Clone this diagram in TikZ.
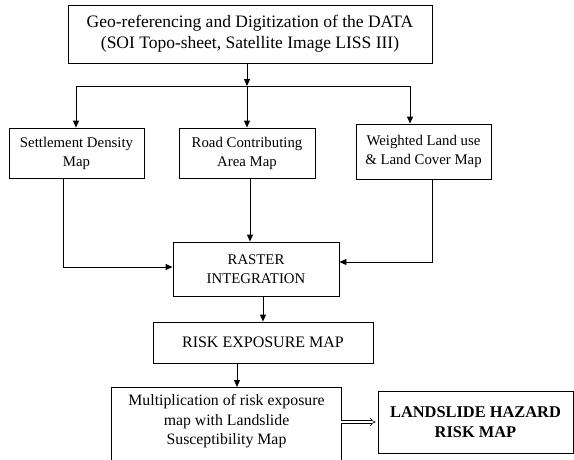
\documentclass[tikz,border=0pt]{standalone}
\usepackage{fontspec}
\setmainfont{Liberation Serif}
\usetikzlibrary{arrows.meta}
\begin{document}
\begin{tikzpicture}[x=1pt,y=-1pt,
  box/.style={draw, line width=0.9pt, rectangle, align=center, inner sep=0pt},
  arr/.style={line width=0.9pt, -{Triangle[length=7pt,width=6pt]}},
  ln/.style={line width=0.9pt}]
\clip (0,0) rectangle (574,459);
\node[box, minimum width=364, minimum height=58, font=\fontsize{17.5}{21}\selectfont] (top) at (250,34)
  {Geo-referencing and Digitization of the DATA\\(SOI Topo-sheet, Satellite Image LISS III)};
\node[box, minimum width=135, minimum height=50, font=\fontsize{14.8}{19}\selectfont] (sdm) at (76.5,153) {Settlement Density\\Map};
\node[box, minimum width=136, minimum height=50, font=\fontsize{14.8}{19}\selectfont] (rca) at (247,153) {Road Contributing\\Area Map};
\node[box, minimum width=135, minimum height=55, font=\fontsize{14.8}{19}\selectfont] (wlu) at (423.5,151.5) {Weighted Land use\\\& Land Cover Map};
\node[box, minimum width=166, minimum height=54, font=\fontsize{14.8}{19}\selectfont] (ras) at (256,269) {RASTER\\INTEGRATION};
\node[box, minimum width=220, minimum height=41, font=\fontsize{16}{19}\selectfont] (rem) at (263,342.5) {RISK EXPOSURE MAP};
\node[align=center, inner sep=0pt, minimum width=229, minimum height=68, anchor=north, font=\fontsize{15.8}{19.5}\selectfont] (mul) at (226.5,387)
  {Multiplication of risk exposure\\map with Landslide\\Susceptibility Map};
\draw[ln] (mul.south west |- 0,470) -- (mul.north west) -- (mul.north east) -- (mul.south east |- 0,470);
\node[box, minimum width=195, minimum height=62, font=\bfseries\fontsize{16.4}{19.5}\selectfont] (lhr) at (475.5,422) {LANDSLIDE HAZARD\\RISK MAP};
% connectors
\coordinate (j) at (247,86);
\coordinate (jl) at (76,86);
\coordinate (jr) at (410,86);
\draw[arr] (top.south -| j) -- (j);
\draw[ln] (jl) -- (jr);
\draw[arr] (jl) -- (jl |- sdm.north);
\draw[arr] (j) -- (rca.north);
\draw[arr] (jr) -- (jr |- wlu.north);
\coordinate (sl) at (63,0);
\coordinate (wr) at (432,0);
\draw[arr] (sl |- sdm.south) |- ([yshift=2pt]ras.west);
\draw[arr] (wr |- wlu.south) |- ([yshift=7pt]ras.east);
\draw[arr] ([xshift=3pt]rca.south) -- ([xshift=3pt]rca.south |- ras.north);
\draw[arr] (ras.south -| rem.north) -- (rem.north);
\draw[arr] ([xshift=-26pt]rem.south) -- ([xshift=-26pt]rem.south |- mul.north);
\draw[line width=0.6pt, double distance=2.4pt, -{Implies}] (mul.east |- lhr.west) -- ([xshift=-2pt]lhr.west);
\end{tikzpicture}
\end{document}
